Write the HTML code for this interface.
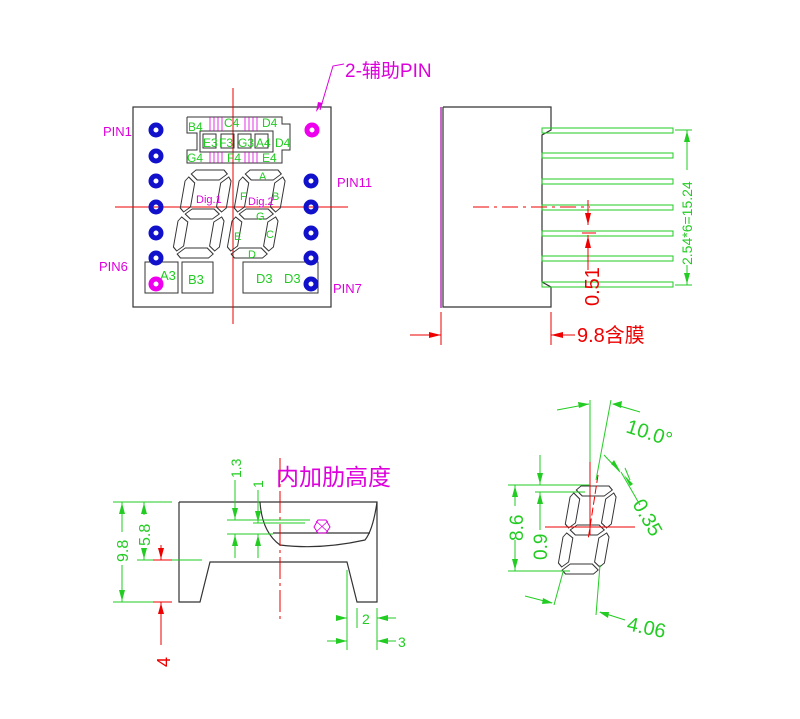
<!DOCTYPE html>
<html><head><meta charset="utf-8"><style>
html,body{margin:0;padding:0;background:#fff;}
svg{display:block;font-family:"Liberation Sans","Noto Sans CJK SC",sans-serif;}
</style></head><body>
<svg width="800" height="719" viewBox="0 0 800 719" xmlns="http://www.w3.org/2000/svg">
<defs>
<g id="digit" fill="none" stroke="#333" stroke-width="1">
 <polygon points="6,0 34,0 38,4 31,10 9,10 2,4"/>
 <polygon points="0,7 7,13 7,37 1,42 -3,38 -3,11"/>
 <polygon points="40,7 43,11 43,38 39,42 33,37 33,13"/>
 <polygon points="3,44 9,39 31,39 37,44 31,49 9,49"/>
 <polygon points="0,47 7,52 7,76 1,81 -3,77 -3,51"/>
 <polygon points="40,47 43,51 43,77 39,81 33,76 33,52"/>
 <polygon points="6,88 34,88 38,84 31,78 9,78 2,84"/>
</g>
</defs>

<!-- ===== Front view ===== -->
<rect x="133" y="107" width="198" height="200" fill="none" stroke="#333" stroke-width="1.2"/>
<line x1="233" y1="88" x2="233" y2="324" stroke="#e00" stroke-width="1"/>
<line x1="115" y1="207" x2="348" y2="207" stroke="#e00" stroke-width="1"/>

<g fill="none" stroke="#333" stroke-width="1">
<polyline points="187,117 282,117 282,124 290,124 290,150 282,150 282,163 187,163 187,150 197,150 197,133 187,133 187,117"/>
<rect x="200" y="131" width="73" height="21"/>
<rect x="203" y="134" width="13" height="14"/>
<rect x="221" y="134" width="13" height="14"/>
<rect x="238" y="134" width="13" height="14"/>
<rect x="255" y="134" width="13" height="14"/>
</g>
<g stroke="#d0d" stroke-width="0.8">
<line x1="210" y1="117" x2="210" y2="131"/><line x1="214" y1="117" x2="214" y2="131"/><line x1="218" y1="117" x2="218" y2="131"/><line x1="222" y1="117" x2="222" y2="131"/>
<line x1="245" y1="117" x2="245" y2="131"/><line x1="249" y1="117" x2="249" y2="131"/><line x1="253" y1="117" x2="253" y2="131"/><line x1="257" y1="117" x2="257" y2="131"/>
<line x1="210" y1="152" x2="210" y2="163"/><line x1="214" y1="152" x2="214" y2="163"/><line x1="218" y1="152" x2="218" y2="163"/><line x1="222" y1="152" x2="222" y2="163"/>
<line x1="245" y1="152" x2="245" y2="163"/><line x1="249" y1="152" x2="249" y2="163"/><line x1="253" y1="152" x2="253" y2="163"/><line x1="257" y1="152" x2="257" y2="163"/>
</g>
<g fill="#2c2" font-size="12">
<text x="188" y="131">B4</text><text x="224" y="127">C4</text><text x="262" y="127">D4</text>
<text x="203" y="147">E3</text><text x="219" y="147">F3</text><text x="238" y="147">G3</text><text x="256" y="147">A4</text>
<text x="275" y="147">D4</text><text x="187" y="162">G4</text><text x="227" y="162">F4</text><text x="262" y="162">E4</text>
</g>

<use href="#digit" transform="translate(190,170) skewX(-10)"/>
<use href="#digit" transform="translate(244,170) skewX(-10)"/>
<g font-size="11">
<text x="196" y="203" fill="#d0d">Dig.1</text>
<text x="248" y="205" fill="#d0d">Dig.2</text>
<text x="259" y="180" fill="#2c2">A</text>
<text x="272" y="200" fill="#2c2">B</text>
<text x="240" y="200" fill="#2c2">F</text>
<text x="256" y="220" fill="#2c2">G</text>
<text x="266" y="238" fill="#2c2">C</text>
<text x="234" y="240" fill="#2c2">E</text>
<text x="248" y="258" fill="#2c2">D</text>
</g>

<g fill="none" stroke="#333" stroke-width="1">
<rect x="145" y="262" width="33" height="31"/>
<rect x="182" y="262" width="31" height="31"/>
<rect x="243" y="262" width="75" height="31"/>
</g>
<g fill="#2c2" font-size="13">
<text x="160" y="280">A3</text><text x="188" y="284">B3</text><text x="256" y="283">D3</text><text x="284" y="283">D3</text>
</g>

<g fill="none" stroke="#11c" stroke-width="5">
<circle cx="156" cy="130" r="5"/><circle cx="156" cy="156" r="5"/><circle cx="156" cy="181" r="5"/><circle cx="156" cy="207" r="5"/><circle cx="156" cy="233" r="5"/><circle cx="156" cy="258" r="5"/>
<circle cx="311" cy="181" r="5"/><circle cx="311" cy="207" r="5"/><circle cx="311" cy="233" r="5"/><circle cx="311" cy="258" r="5"/><circle cx="311" cy="284" r="5"/>
</g>
<g fill="none" stroke="#e0e" stroke-width="5">
<circle cx="312" cy="130" r="5"/><circle cx="156" cy="284" r="5"/>
</g>
<g fill="#d0d" font-size="13">
<text x="103" y="136">PIN1</text><text x="99" y="271">PIN6</text><text x="337" y="187">PIN11</text><text x="333" y="293">PIN7</text>
<text x="345" y="77" font-size="19">2-辅助PIN</text>
</g>
<polyline points="344,64 333,66 320,110" fill="none" stroke="#d0d" stroke-width="1"/>
<polygon points="316,112 318,102 323,103" fill="#d0d"/>

<!-- ===== Side view ===== -->
<line x1="441" y1="107" x2="441" y2="308" stroke="#a0a" stroke-width="1.2"/>
<polyline points="443,107 551,107 551,130 542,135 542,282 551,287 551,307 443,307 443,107" fill="none" stroke="#333" stroke-width="1.2"/>
<g fill="none" stroke="#2c2" stroke-width="1">
<rect x="542" y="128" width="131" height="5"/>
<rect x="542" y="153" width="131" height="5"/>
<rect x="542" y="179" width="131" height="5"/>
<rect x="542" y="205" width="131" height="5"/>
<rect x="542" y="231" width="131" height="5"/>
<rect x="542" y="256" width="131" height="5"/>
<rect x="542" y="282" width="131" height="5"/>
</g>
<g stroke="#2c2" stroke-width="1">
<line x1="675" y1="130" x2="692" y2="130"/><line x1="675" y1="285" x2="692" y2="285"/>
<line x1="687" y1="130" x2="687" y2="170"/><line x1="687" y1="265" x2="687" y2="285"/>
</g>
<polygon points="687,131 684,142 690,142" fill="#2c2"/><polygon points="687,284 684,273 690,273" fill="#2c2"/>
<text transform="translate(692,265) rotate(-90)" fill="#2c2" font-size="14">2.54*6=15.24</text>
<line x1="473" y1="207" x2="590" y2="207" stroke="#e00" stroke-width="1" stroke-dasharray="16,5,3,5"/>
<g stroke="#e00" stroke-width="1">
<line x1="588" y1="200" x2="588" y2="225"/><line x1="588" y1="235" x2="588" y2="270"/>
<line x1="582" y1="233" x2="596" y2="233"/>
<line x1="441" y1="312" x2="441" y2="345"/><line x1="551" y1="312" x2="551" y2="345"/>
<line x1="410" y1="335" x2="441" y2="335"/><line x1="551" y1="335" x2="575" y2="335"/>
</g>
<polygon points="588,225 585,213 591,213" fill="#e00"/><polygon points="588,236 585,248 591,248" fill="#e00"/>
<polygon points="441,335 429,332 429,338" fill="#e00"/><polygon points="551,335 563,332 563,338" fill="#e00"/>
<text transform="translate(599,306) rotate(-90)" fill="#e00" font-size="20">0.51</text>
<text x="577" y="342" fill="#e00" font-size="20">9.8含膜</text>

<!-- ===== Section view ===== -->
<g fill="none" stroke="#333" stroke-width="1.2">
<polyline points="179,502 377,502 377,602 357,602 347,562 210,562 200,602 179,602 179,502"/>
<path d="M260,502 Q262,532 280,545 Q320,550 365,540 Q373,530 377,502"/>
<line x1="273" y1="533" x2="370" y2="533"/>
</g>
<line x1="280" y1="458" x2="280" y2="622" stroke="#e00" stroke-width="1" stroke-dasharray="22,4,3,4"/>
<polygon points="318,520 326,520 330,527 326,533 318,533 314,527" fill="none" stroke="#d0d" stroke-width="1"/>
<line x1="316" y1="521" x2="328" y2="532" stroke="#d0d" stroke-width="0.8"/><line x1="328" y1="521" x2="316" y2="532" stroke="#d0d" stroke-width="0.8"/>
<text x="276" y="485" fill="#d0d" font-size="23">内加肋高度</text>
<g stroke="#2c2" stroke-width="1">
<line x1="113" y1="502" x2="172" y2="502"/><line x1="113" y1="602" x2="172" y2="602"/>
<line x1="137" y1="560" x2="202" y2="560"/>
<line x1="122" y1="502" x2="122" y2="532"/><line x1="122" y1="565" x2="122" y2="602"/>
<line x1="144" y1="502" x2="144" y2="515"/><line x1="144" y1="548" x2="144" y2="560"/>
<line x1="227" y1="520" x2="310" y2="520"/><line x1="253" y1="523" x2="305" y2="523"/>
<line x1="227" y1="534" x2="273" y2="534"/>
<line x1="235" y1="480" x2="235" y2="520"/><line x1="235" y1="534" x2="235" y2="558"/>
<line x1="258" y1="490" x2="258" y2="523"/><line x1="258" y1="534" x2="258" y2="558"/>
<line x1="347" y1="570" x2="347" y2="650"/><line x1="357" y1="608" x2="357" y2="628"/><line x1="377" y1="608" x2="377" y2="650"/>
<line x1="337" y1="618" x2="347" y2="618"/><line x1="377" y1="618" x2="396" y2="618"/>
<line x1="327" y1="641" x2="347" y2="641"/><line x1="377" y1="641" x2="396" y2="641"/>
</g>
<g fill="#2c2">
<polygon points="122,503 119,514 125,514"/><polygon points="122,601 119,590 125,590"/>
<polygon points="144,503 141,514 147,514"/><polygon points="144,559 141,548 147,548"/>
<polygon points="235,519 232,508 238,508"/><polygon points="235,535 232,546 238,546"/>
<polygon points="258,522 255,511 261,511"/><polygon points="258,535 255,546 261,546"/>
<polygon points="347,618 336,615 336,621"/><polygon points="377,618 388,615 388,621"/>
<polygon points="347,641 336,638 336,644"/><polygon points="377,641 388,638 388,644"/>
</g>
<g fill="#2c2" font-size="16">
<text transform="translate(128,562) rotate(-90)">9.8</text>
<text transform="translate(150,546) rotate(-90)">5.8</text>
<text transform="translate(241,478) rotate(-90)" font-size="14">1.3</text>
<text transform="translate(263,488) rotate(-90)" font-size="14">1</text>
<text x="362" y="624" font-size="14">2</text><text x="398" y="647" font-size="14">3</text>
</g>
<g stroke="#e00" stroke-width="1">
<line x1="153" y1="560" x2="172" y2="560"/><line x1="153" y1="602" x2="172" y2="602"/>
<line x1="161" y1="545" x2="161" y2="560"/><line x1="161" y1="602" x2="161" y2="645"/>
</g>
<polygon points="161,559 158,548 164,548" fill="#e00"/><polygon points="161,603 158,614 164,614" fill="#e00"/>
<text transform="translate(170,667) rotate(-90)" fill="#e00" font-size="18">4</text>

<!-- ===== Slanted digit detail ===== -->
<use href="#digit" transform="translate(575,486) skewX(-10)"/>
<g stroke="#e00" stroke-width="1">
<line x1="590" y1="460" x2="590" y2="535"/>
<line x1="598" y1="475" x2="588" y2="540" stroke-dasharray="8,3"/>
<line x1="545" y1="527" x2="635" y2="527"/>
</g>
<g stroke="#2c2" stroke-width="1">
<line x1="590" y1="400" x2="590" y2="462"/>
<line x1="611" y1="400" x2="596" y2="480"/>
<line x1="557" y1="410" x2="589" y2="404"/>
<line x1="613" y1="404" x2="640" y2="412"/>
<line x1="604" y1="455" x2="620" y2="472"/>
<line x1="621" y1="472" x2="640" y2="505"/>
<line x1="625" y1="468" x2="630" y2="480"/>
<line x1="508" y1="485" x2="590" y2="485"/><line x1="508" y1="571" x2="570" y2="571"/>
<line x1="535" y1="492" x2="585" y2="492"/>
<line x1="515" y1="485" x2="515" y2="506"/><line x1="515" y1="540" x2="515" y2="571"/>
<line x1="540" y1="455" x2="540" y2="485"/><line x1="540" y1="492" x2="540" y2="530"/>
<line x1="563" y1="572" x2="554" y2="605"/>
<line x1="600" y1="565" x2="596" y2="615"/>
<line x1="525" y1="596" x2="552" y2="603"/><line x1="600" y1="612" x2="625" y2="620"/>
</g>
<g fill="#2c2">
<polygon points="589,404 578,402 579,408"/><polygon points="612,404 622,401 621,408"/>
<polygon points="515,486 512,497 518,497"/><polygon points="515,570 512,559 518,559"/>
<polygon points="540,484 537,473 543,473"/><polygon points="540,493 537,504 543,504"/>
<polygon points="620,471 611,464 614,460"/><polygon points="624,475 633,484 630,486"/>
<polygon points="553,603 543,598 542,604"/><polygon points="599,612 609,612 608,618"/>
</g>
<g fill="#2c2" font-size="20">
<text transform="translate(625,432) rotate(18)">10.0°</text>
<text transform="translate(632,504) rotate(60)">0.35</text>
<text transform="translate(626,630) rotate(12)">4.06</text>
<text transform="translate(523,541) rotate(-90)" font-size="19">8.6</text>
<text transform="translate(547,560) rotate(-90)" font-size="19">0.9</text>
</g>
</svg>
</body></html>
